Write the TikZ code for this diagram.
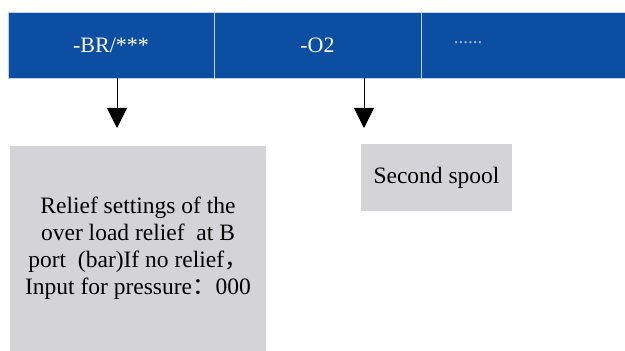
\documentclass[tikz,border=0pt]{standalone}
\usepackage{fontspec}
\setmainfont{LiberationSerif}[Extension=.ttf,UprightFont=*-Regular,BoldFont=*-Bold]
\newfontfamily\cjk{Noto Sans CJK SC}
\usepackage{tikz}
\usetikzlibrary{arrows.meta,positioning}
\definecolor{barblue}{RGB}{12,78,162}
\definecolor{boxgray}{RGB}{212,212,216}
\definecolor{dotgray}{RGB}{170,182,210}
\tikzset{
  cell/.style={draw=white!75!barblue, line width=0.8pt, fill=barblue, minimum height=66pt, inner sep=0pt, text=white, font=\fontsize{22}{26}\selectfont},
  note/.style={fill=boxgray, inner sep=0pt, align=center, font=\fontsize{23.5}{27}\selectfont},
  arrow/.style={-{Triangle[width=20pt,length=20pt]}, line width=0.9pt}
}

\begin{document}
\begin{tikzpicture}[x=1pt,y=1pt]
  \useasboundingbox[fill=white] (0,0) rectangle (625,351);
  \node[cell,minimum width=206pt] (br) at (111,306) {-BR/***};
  \node[cell,minimum width=207pt] (spool) at (317.5,306) {-O2};
  \node[cell,minimum width=210pt,anchor=west] (more) at (421,306) {};
  \node[text=dotgray,font=\fontsize{19}{22}\selectfont] (dots) at (468,308) {......};
  \node[note,minimum width=256pt,minimum height=205pt] (relief) at (138,102.5)
    {Relief settings of the\\over load relief\ \ at B\\port\ \ (bar)If no relief{\cjk ，}\\Input for pressure{\cjk ：}000};
  \node[note,minimum width=151pt,minimum height=67pt] (second) at (436.5,173.5) {Second spool};
  \coordinate (tip1) at (117,223);
  \coordinate (tip2) at (364,223);
  \draw[arrow] (tip1 |- br.south) -- (tip1);
  \draw[arrow] (tip2 |- spool.south) -- (tip2);
\end{tikzpicture}
\end{document}
